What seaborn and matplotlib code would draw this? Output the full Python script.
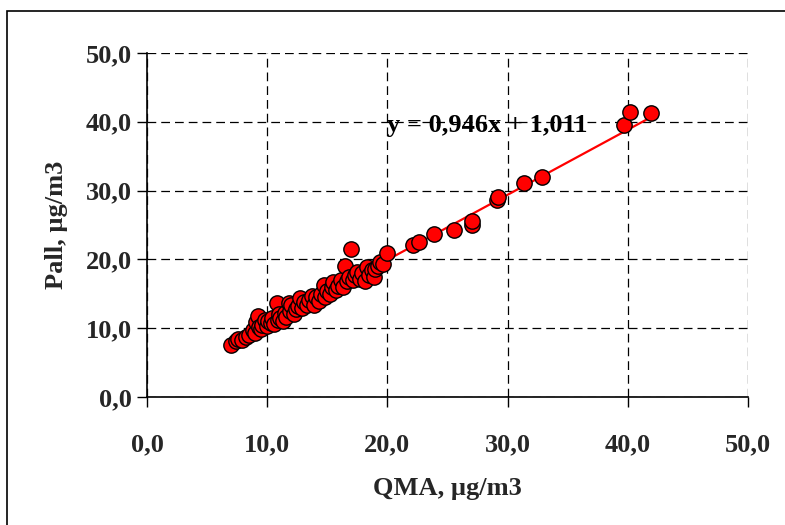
import matplotlib
matplotlib.use("Agg")
import matplotlib.pyplot as plt
import seaborn as sns
import numpy as np
import pandas as pd
from matplotlib.patches import Rectangle

qma = [7.0, 7.4, 7.6, 7.9, 8.2, 8.5, 8.8, 9.0, 9.1, 9.2, 9.3, 9.5, 9.6, 9.8, 10.0,
       10.1, 10.3, 10.4, 10.6, 10.8, 10.9, 11.0, 11.1, 11.3, 11.5, 11.6, 11.8, 11.9,
       12.0, 12.2, 12.4, 12.6, 12.7, 12.9, 13.1, 13.3, 13.5, 13.7, 13.9, 14.1, 14.3,
       14.5, 14.7, 14.8, 15.0, 15.2, 15.4, 15.5, 15.7, 15.9, 16.1, 16.3, 16.5, 16.6,
       16.8, 17.0, 17.1, 17.3, 17.5, 17.7, 17.9, 18.1, 18.3, 18.5, 18.7, 18.9, 19.0,
       19.2, 19.4, 19.6, 20.0, 22.1, 22.6, 23.9, 25.5, 27.0, 27.0, 29.1, 29.2, 31.4,
       32.9, 39.7, 40.2, 41.9]
pall = [7.5, 8.2, 8.4, 8.3, 8.7, 9.0, 9.7, 9.3, 10.9, 11.8, 10.2, 9.9, 10.5, 11.2, 10.3,
        11.0, 10.8, 11.5, 10.6, 13.7, 11.2, 12.0, 11.5, 11.0, 12.2, 11.7, 13.6, 12.5,
        13.3, 12.0, 12.8, 13.2, 14.4, 13.0, 13.8, 13.4, 14.1, 14.7, 13.3, 14.5, 14.0,
        15.0, 16.3, 14.6, 15.4, 14.9, 16.0, 16.7, 15.5, 16.2, 17.0, 16.0, 19.0, 16.8,
        17.4, 21.5, 17.0, 17.8, 18.2, 17.2, 18.0, 16.8, 18.9, 17.8, 18.4, 17.5, 18.6,
        19.0, 19.6, 19.3, 20.9, 22.1, 22.5, 23.7, 24.3, 25.0, 25.6, 28.6, 29.0, 31.1,
        32.0, 39.5, 41.4, 41.3]
slope = 0.946
intercept = 1.011
ticks = [0, 10, 20, 30, 40, 50]
tick_labels = ["0,0", "10,0", "20,0", "30,0", "40,0", "50,0"]
x_title = "QMA, µg/m3"
y_title = "Pall, µg/m3"
eq_text = "y = 0,946x + 1,011"

sns.set_theme(style="white")
plt.rcParams['font.family'] = ['Liberation Serif', 'DejaVu Serif']
plt.rcParams['font.weight'] = 'bold'

fig = plt.figure(figsize=(7.85, 5.25), dpi=100)
ax = fig.add_axes([147/785, 1-397/525, (748-147)/785, (397-53)/525])

df = pd.DataFrame({"QMA": qma, "Pall": pall})
fit_x = np.array([min(qma), max(qma)])
fit = pd.DataFrame({"x": fit_x, "y": slope * fit_x + intercept})

sns.lineplot(data=fit, x="x", y="y", ax=ax, color="#ff0000", linewidth=1.6, zorder=2)
sns.scatterplot(data=df, x="QMA", y="Pall", ax=ax, color="#ff0000", edgecolor="black",
                linewidth=1.0, s=122, zorder=3)

ax.set_xlim(0, 50)
ax.set_ylim(0, 50)
ax.set_xticks(ticks)
ax.set_yticks(ticks)
ax.set_xticklabels(tick_labels, fontsize=19, fontweight='bold')
ax.set_yticklabels(tick_labels, fontsize=19, fontweight='bold')
ax.tick_params(axis='x', direction='out', length=7, width=1, color='black', pad=19, bottom=True)
ax.tick_params(axis='y', direction='out', length=7, width=1, color='black', pad=4, left=True)
ax.set_xlabel(x_title, fontsize=19, fontweight='bold', labelpad=15)
ax.set_ylabel(y_title, fontsize=19, fontweight='bold', labelpad=13)

ax.grid(True, color='black', linestyle=(0, (7, 4)), linewidth=0.9)
ax.set_axisbelow(True)
for s in ['top', 'right']:
    ax.spines[s].set_visible(False)
for s in ['left', 'bottom']:
    ax.spines[s].set_color('black')
    ax.spines[s].set_linewidth(1.2)

ax.text(28.3, 39.4, eq_text, fontsize=19, fontweight='bold', ha='center', va='center',
        color='black', zorder=4)

fig.patches.append(Rectangle((7/785, -0.05), 1.1, 1-11/525+0.05, transform=fig.transFigure,
                             fill=False, edgecolor='black', linewidth=1.2))

fig.savefig("out.png", dpi=100)
